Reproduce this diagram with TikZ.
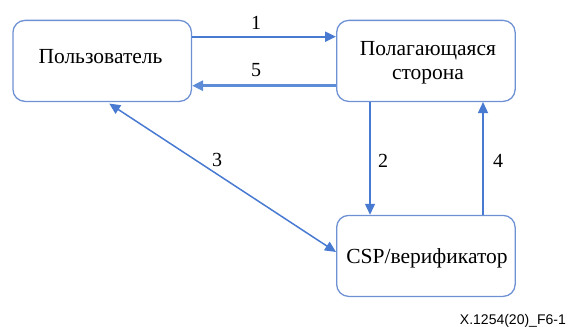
\documentclass[tikz,border=0pt]{standalone}
\usepackage{fontspec}
\newfontfamily\figserif{Liberation Serif}
\newfontfamily\figsans{Liberation Sans}
\usetikzlibrary{arrows.meta}
\definecolor{boxblue}{RGB}{110,145,212}
\definecolor{arrblue}{RGB}{72,122,210}
\definecolor{arrlight}{RGB}{95,140,215}
\begin{document}
\begin{tikzpicture}[x=1pt,y=-1pt,
  entity/.style={draw=boxblue,line width=1.3pt,rounded corners=12pt,minimum width=178.5pt,minimum height=81pt,inner sep=0pt},
  lbl/.style={font=\figserif\fontsize{21.5}{24}\selectfont,inner sep=0pt,anchor=base},
  num/.style={font=\figserif\fontsize{20}{24}\selectfont,inner sep=0pt},
  arr/.style={draw=arrblue,line width=1.5pt,-{Triangle[length=11pt,width=10pt]}},
  darr/.style={draw=arrblue,line width=1.5pt,{Triangle[length=11pt,width=10pt]}-{Triangle[length=11pt,width=10pt]}}
]
\useasboundingbox (0,0) rectangle (569,326);
\node[entity] (u) at (102.2,60.9) {};
\node[entity] (rp) at (425.9,60.9) {};
\node[entity] (csp) at (425.9,255.9) {};

\node[lbl] (ut) at (100.5,63.3) {Пользователь};
\node[lbl] (rpt1) at (428,56) {Полагающаяся};
\node[lbl] (rpt2) at (428,80) {сторона};
\node[lbl] (cspt) at (427,263.3) {CSP/верификатор};

\draw[arr,line width=2pt] (u.east |- 0,36.7) -- (rp.west |- 0,36.7);
\draw[arr,draw=arrlight,line width=2.8pt] (rp.west |- 0,85.7) -- (u.east |- 0,85.7);
\draw[arr] (rp.south -| 370,0) -- (csp.north -| 370,0);
\draw[arr] (csp.north -| 483,0) -- (rp.south -| 483,0);
\draw[darr] ([xshift=7pt,yshift=-1.5pt]u.south) -- (csp.west |- 0,252);

\node[num] (n1) at (256,23) {1};
\node[num] (n5) at (256,70) {5};
\node[num] (n2) at (383,161) {2};
\node[num] (n4) at (498,161) {4};
\node[num] (n3) at (217,160) {3};

\node[font=\figsans\fontsize{14}{16}\selectfont,inner sep=0pt,anchor=base east] (fig) at (566,324) {X.1254(20)\_F6-1};
\end{tikzpicture}
\end{document}
